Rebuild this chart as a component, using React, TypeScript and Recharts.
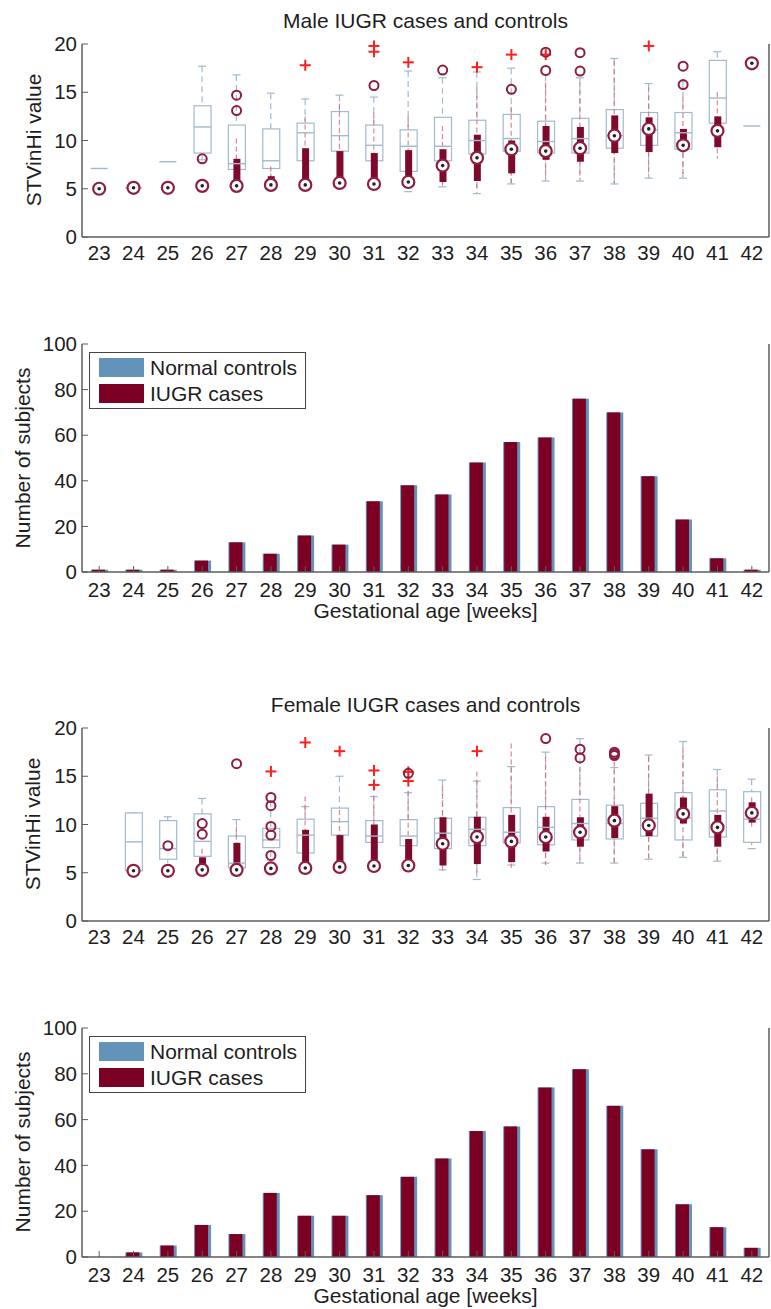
import React from "react";
import { ComposedChart, Bar, Scatter, XAxis, YAxis, Legend } from "recharts";

const FONT = "'Liberation Sans', Arial, Helvetica, sans-serif";
const AXIS = "#5c5c5c";
const TEXT = "#1e1e1e";
const CTRL = "#a3b9cd";
const CASE = "#7d0a2c";
const CASE_RING = "#8e1d40";
const CASE_WHISK = "#d4687c";
const PLUS = "#ff1e1e";
const BAR_CTRL = "#6393b8";
const BAR_CASE = "#7b0024";
const W = 771;

const weeks = ["23", "24", "25", "26", "27", "28", "29", "30", "31", "32", "33", "34", "35", "36", "37", "38", "39", "40", "41", "42"];
const legendOrder = ["Normal controls", "IUGR cases"];

// male STVinHi: normal controls (whisker low, q1, median, q3, whisker high)
const maleCtrlLow = [null, null, null, 8.0, 5.3, 5.5, 5.3, 5.4, 5.3, 4.7, 5.2, 4.5, 5.5, 5.8, 5.8, 5.5, 6.1, 6.1, 10.5, null];
const maleCtrlQ1 = [null, null, null, 8.7, 7.0, 7.1, 7.9, 8.9, 7.9, 6.8, 7.9, 8.6, 8.9, 8.7, 8.7, 9.2, 9.5, 9.1, 11.8, null];
const maleCtrlMed = [7.1, 5.1, 7.8, 11.4, 7.6, 7.9, 10.8, 10.5, 9.5, 9.4, 9.4, 10.0, 10.2, 9.9, 10.2, 10.5, 11.1, 10.8, 14.4, 11.5];
const maleCtrlQ3 = [null, null, null, 13.6, 11.6, 11.2, 11.8, 13.0, 11.6, 11.1, 12.4, 12.1, 12.7, 12.0, 12.3, 13.2, 12.9, 12.9, 18.3, null];
const maleCtrlHigh = [null, null, null, 17.7, 16.8, 14.9, 14.3, 14.7, 14.5, 17.2, 16.5, 17.1, 17.5, 16.8, 16.5, 18.5, 15.9, 16.1, 19.2, null];
const maleCtrlOut = [[], [], [], [], [], [], [17.8], [], [19.8, 19.2], [18.1], [], [17.6], [18.9], [18.9], [], [], [19.8], [], [], []];

// male STVinHi: IUGR cases
const maleCaseLow = [null, null, null, 5.2, 5.2, 5.2, 5.2, 5.3, 5.3, 5.3, 5.3, 4.8, 5.6, 6.0, 6.0, 5.6, 6.5, 6.3, 8.1, null];
const maleCaseQ1 = [null, null, null, 5.2, 5.3, 5.3, 5.4, 5.5, 5.5, 5.6, 5.7, 5.8, 6.6, 8.0, 7.8, 8.7, 8.8, 9.2, 9.3, null];
const maleCaseMed = [5.0, 5.1, 5.1, 5.3, 5.3, 5.4, 5.4, 5.6, 5.5, 5.7, 7.4, 8.2, 9.1, 8.9, 9.2, 10.5, 11.2, 9.5, 11.0, 18.0];
const maleCaseQ3 = [null, null, null, 5.9, 8.1, 6.3, 9.2, 8.9, 8.7, 9.0, 9.1, 10.6, 10.0, 11.5, 11.4, 12.6, 12.4, 11.2, 12.5, null];
const maleCaseHigh = [null, null, null, 6.0, 10.2, 7.3, 12.5, 13.8, 12.9, 12.5, 11.5, 15.5, 13.5, 16.0, 16.0, 18.2, 15.5, 14.5, 15.0, null];
const maleCaseOut = [[], [], [], [8.1], [14.7, 13.1], [], [], [], [15.7], [], [17.3], [], [15.3], [19.15, 17.26], [19.1, 17.2], [], [], [17.7, 15.8], [], []];

// female STVinHi: normal controls
const femCtrlLow = [null, 5.2, 5.3, 5.3, 5.3, 6.3, 5.3, 5.5, 5.5, 5.4, 5.3, 4.3, 5.8, 6.0, 6.0, 6.0, 6.4, 6.6, 6.2, 7.5];
const femCtrlQ1 = [null, 5.2, 6.4, 6.7, 5.5, 7.6, 7.05, 8.9, 8.15, 7.8, 7.5, 7.8, 8.1, 7.9, 8.4, 8.5, 8.8, 8.4, 8.7, 8.15];
const femCtrlMed = [null, 8.2, 7.5, 8.25, 6.0, 8.4, 8.9, 10.3, 8.8, 8.8, 9.1, 9.5, 9.2, 9.7, 10.1, 10.1, 10.65, 10.7, 11.4, 10.55];
const femCtrlQ3 = [null, 11.2, 10.4, 11.1, 8.8, 9.6, 10.55, 11.7, 10.4, 10.5, 10.65, 10.75, 11.75, 11.85, 12.6, 12.0, 12.2, 13.3, 13.6, 13.4];
const femCtrlHigh = [null, 11.2, 10.8, 12.7, 10.5, 12.4, 11.85, 15.0, 12.9, 13.3, 14.6, 14.5, 16.0, 17.5, 18.9, 15.9, 17.2, 18.6, 15.7, 14.7];
const femCtrlOut = [[], [], [], [], [], [15.5], [18.5], [17.6], [15.6, 14.1], [15.45, 14.5], [], [17.6], [], [], [], [], [], [], [], []];

// female STVinHi: IUGR cases
const femCaseLow = [null, null, null, 5.2, 5.2, null, 5.3, 5.4, 5.4, 5.5, 5.2, 5.0, 5.5, 5.8, 6.0, 6.0, 6.2, 6.5, 6.3, 9.8];
const femCaseQ1 = [null, null, null, 5.3, 5.3, null, 5.4, 5.5, 5.6, 5.7, 5.75, 5.9, 6.1, 7.2, 7.7, 8.6, 8.8, 10.1, 7.7, 10.2];
const femCaseMed = [null, 5.2, 5.2, 5.3, 5.3, 5.45, 5.5, 5.6, 5.7, 5.75, 8.0, 8.7, 8.25, 8.7, 9.2, 10.4, 9.9, 11.1, 9.7, 11.2];
const femCaseQ3 = [null, null, null, 6.6, 8.1, null, 9.45, 8.9, 10.0, 8.5, 10.75, 10.8, 11.0, 10.8, 10.75, 11.9, 13.2, 12.8, 11.0, 12.3];
const femCaseHigh = [null, null, null, 7.5, 9.8, null, 12.9, 11.5, 13.0, 13.5, 14.0, 15.5, 18.4, 17.0, 16.0, 16.5, 17.0, 18.0, 15.0, 12.8];
const femCaseOut = [[], [], [7.8], [10.1, 9.0], [16.3], [12.8, 11.95, 9.8, 8.9, 6.8], [], [], [], [15.3], [], [], [], [18.9], [17.8, 16.9], [17.5, 17.3, 17.15], [], [], [], []];

// number of subjects per week
const maleCtrlCount = [1, 1, 1, 5, 13, 8, 16, 12, 31, 38, 34, 48, 57, 59, 76, 70, 42, 23, 6, 1];
const maleCaseCount = [1, 1, 1, 5, 13, 8, 16, 12, 31, 38, 34, 48, 57, 59, 76, 70, 42, 23, 6, 1];
const femCtrlCount = [0, 2, 5, 14, 10, 28, 18, 18, 27, 35, 43, 55, 57, 74, 82, 66, 47, 23, 13, 4];
const femCaseCount = [0, 2, 5, 14, 10, 28, 18, 18, 27, 35, 43, 55, 57, 74, 82, 66, 47, 23, 13, 4];

const stvTicks = [0, 5, 10, 15, 20];
const countTicks = [0, 20, 40, 60, 80, 100];

type Num = number | null;

function boxRows(
  cLow: Num[], cQ1: Num[], cMed: Num[], cQ3: Num[], cHigh: Num[], cOut: number[][],
  kLow: Num[], kQ1: Num[], kMed: Num[], kQ3: Num[], kHigh: Num[], kOut: number[][]
) {
  return weeks.map((week, i) => {
    const row: Record<string, string | number | null> = {
      week,
      cLow: cLow[i], cQ1: cQ1[i], cMed: cMed[i], cQ3: cQ3[i], cHigh: cHigh[i],
      kLow: kLow[i], kQ1: kQ1[i], kMed: kMed[i], kQ3: kQ3[i], kHigh: kHigh[i],
    };
    cOut[i].forEach((v, j) => { row["co" + j] = v; });
    kOut[i].forEach((v, j) => { row["ko" + j] = v; });
    return row;
  });
}

const maleRows = boxRows(maleCtrlLow, maleCtrlQ1, maleCtrlMed, maleCtrlQ3, maleCtrlHigh, maleCtrlOut,
  maleCaseLow, maleCaseQ1, maleCaseMed, maleCaseQ3, maleCaseHigh, maleCaseOut);
const femRows = boxRows(femCtrlLow, femCtrlQ1, femCtrlMed, femCtrlQ3, femCtrlHigh, femCtrlOut,
  femCaseLow, femCaseQ1, femCaseMed, femCaseQ3, femCaseHigh, femCaseOut);

const maleCounts = weeks.map((week, i) => ({ week, ctrl: maleCtrlCount[i], cases: maleCaseCount[i] }));
const femCounts = weeks.map((week, i) => ({ week, ctrl: femCtrlCount[i], cases: femCaseCount[i] }));

const maxLen = (a: number[][]) => Math.max(...a.map((x) => x.length));

const axisLine = { stroke: AXIS, strokeWidth: 1.5 };

// ticks
const xTick = (p: any) => (
  <text x={p.x} y={p.y} dy="0.71em" textAnchor="middle" fontSize={20.5} fontFamily={FONT} fill={TEXT}>
    {p.payload.value}
  </text>
);
const xTickMarked = (p: any) => (
  <g>
    <line x1={p.x} x2={p.x} y1={p.y - 10} y2={p.y - 16} stroke={AXIS} />
    {xTick(p)}
  </g>
);
const leftTick = (p: any) => (
  <g>
    <line x1={p.x + 5} x2={p.x + 11} y1={p.y} y2={p.y} stroke={AXIS} />
    <text x={p.x} y={p.y} dy="0.35em" textAnchor="end" fontSize={20.5} fontFamily={FONT} fill={TEXT}>
      {p.payload.value}
    </text>
  </g>
);
const rightTick = (p: any) => <line x1={p.x - 6} x2={p.x} y1={p.y} y2={p.y} stroke={AXIS} />;
const topTick = (p: any) => <line x1={p.x} x2={p.x} y1={p.y} y2={p.y + 6} stroke={AXIS} />;

// box plot pieces
const span = (p: any) => {
  const a = p.y, b = p.y + p.height;
  return [Math.min(a, b), Math.max(a, b)];
};

const ctrlWhisker = (p: any) => {
  if (!p.payload || p.payload.cLow == null) return <g />;
  const cx = p.x + p.width / 2;
  const [y1, y2] = span(p);
  return (
    <g>
      <line x1={cx} x2={cx} y1={y1} y2={y2} stroke={CTRL} strokeWidth={1.2} strokeDasharray="6 4" />
      <line x1={cx - 4} x2={cx + 4} y1={y1} y2={y1} stroke={CTRL} strokeWidth={1.2} />
      <line x1={cx - 4} x2={cx + 4} y1={y2} y2={y2} stroke={CTRL} strokeWidth={1.2} />
    </g>
  );
};

const ctrlBox = (p: any) => {
  if (!p.payload || p.payload.cQ1 == null) return <g />;
  const [y1, y2] = span(p);
  return <rect x={p.x} y={y1} width={p.width} height={y2 - y1} fill="#fff" stroke={CTRL} strokeWidth={1.2} />;
};

const caseWhisker = (p: any) => {
  if (!p.payload || p.payload.kLow == null) return <g />;
  const cx = p.x + p.width / 2;
  const [y1, y2] = span(p);
  return <line x1={cx} x2={cx} y1={y1} y2={y2} stroke={CASE_WHISK} strokeWidth={1.2} strokeDasharray="5 3" opacity={0.8} />;
};

const caseBox = (p: any) => {
  if (!p.payload || p.payload.kQ1 == null) return <g />;
  const [y1, y2] = span(p);
  return <rect x={p.x} y={y1} width={p.width} height={y2 - y1} fill={CASE} />;
};

const valid = (p: any, key: string) =>
  p.payload && p.payload[key] != null && p.cy != null && Number.isFinite(p.cy);

const ctrlMedian = (p: any) =>
  valid(p, "cMed") ? (
    <line x1={p.cx - 8.5} x2={p.cx + 8.5} y1={p.cy} y2={p.cy} stroke={CTRL} strokeWidth={1.4} />
  ) : <g />;

const caseMedian = (p: any) =>
  valid(p, "kMed") ? (
    <g>
      <circle cx={p.cx} cy={p.cy} r={6} fill="#fff" stroke={CASE_RING} strokeWidth={2.2} />
      <circle cx={p.cx} cy={p.cy} r={1.8} fill="#222" />
    </g>
  ) : <g />;

const plusShape = (key: string) => (p: any) =>
  valid(p, key) ? (
    <g stroke={PLUS} strokeWidth={2}>
      <line x1={p.cx - 5.5} x2={p.cx + 5.5} y1={p.cy} y2={p.cy} />
      <line x1={p.cx} x2={p.cx} y1={p.cy - 5.5} y2={p.cy + 5.5} />
    </g>
  ) : <g />;

const ringShape = (key: string) => (p: any) =>
  valid(p, key) ? <circle cx={p.cx} cy={p.cy} r={4.5} fill="none" stroke={CASE_RING} strokeWidth={2} /> : <g />;

function BoxPanel({ rows, nCo, nKo, top, height, marginTop, axisH }: any) {
  return (
    <div style={{ position: "absolute", left: 0, top }}>
      <ComposedChart width={W} height={height} data={rows} margin={{ top: marginTop, right: 0, bottom: 0, left: 0 }}>
        <XAxis xAxisId="x" dataKey="week" height={axisH} interval={0} tickSize={0} tickMargin={8}
          tickLine={false} axisLine={axisLine} tick={xTick} />
        <XAxis xAxisId="top" dataKey="week" orientation="top" height={0} tickLine={false} tick={false} axisLine={axisLine} />
        <XAxis xAxisId="x2" dataKey="week" hide />
        <XAxis xAxisId="x3" dataKey="week" hide />
        <XAxis xAxisId="x4" dataKey="week" hide />
        <YAxis yAxisId="l" type="number" domain={[0, 20]} ticks={stvTicks} interval={0} width={82}
          tickSize={0} tickMargin={5} tickLine={false} axisLine={axisLine} tick={leftTick} />
        <YAxis yAxisId="r" orientation="right" type="number" domain={[0, 20]} ticks={stvTicks} interval={0} width={2}
          tickSize={0} tickMargin={0} tickLine={false} axisLine={axisLine} tick={rightTick} />

        <Bar xAxisId="x" yAxisId="l" dataKey={(d: any) => (d.cLow == null ? null : [d.cLow, d.cHigh])}
          barSize={10} shape={ctrlWhisker} isAnimationActive={false} />
        <Bar xAxisId="x2" yAxisId="l" dataKey={(d: any) => (d.cQ1 == null ? null : [d.cQ1, d.cQ3])}
          barSize={17} shape={ctrlBox} isAnimationActive={false} />
        <Scatter xAxisId="x" yAxisId="l" dataKey="cMed" shape={ctrlMedian} isAnimationActive={false} />
        <Bar xAxisId="x3" yAxisId="l" dataKey={(d: any) => (d.kLow == null ? null : [d.kLow, d.kHigh])}
          barSize={4} shape={caseWhisker} isAnimationActive={false} />
        <Bar xAxisId="x4" yAxisId="l" dataKey={(d: any) => (d.kQ1 == null ? null : [d.kQ1, d.kQ3])}
          barSize={7} shape={caseBox} isAnimationActive={false} />
        {Array.from({ length: nCo }, (_, j) => (
          <Scatter key={"co" + j} xAxisId="x" yAxisId="l" dataKey={"co" + j} shape={plusShape("co" + j)} isAnimationActive={false} />
        ))}
        {Array.from({ length: nKo }, (_, j) => (
          <Scatter key={"ko" + j} xAxisId="x" yAxisId="l" dataKey={"ko" + j} shape={ringShape("ko" + j)} isAnimationActive={false} />
        ))}
        <Scatter xAxisId="x" yAxisId="l" dataKey="kMed" shape={caseMedian} isAnimationActive={false} />
      </ComposedChart>
    </div>
  );
}

const renderLegend = (props: any) => {
  const items = [...(props.payload || [])].sort(
    (a: any, b: any) => legendOrder.indexOf(a.value) - legendOrder.indexOf(b.value)
  );
  return (
    <div style={{ width: 217, height: 57, border: "1px solid #444", background: "#fff", boxSizing: "border-box", position: "relative" }}>
      {items.map((e: any, i: number) => (
        <div key={i} style={{ position: "absolute", left: 9, top: i === 0 ? 5 : 31, display: "flex", alignItems: "center", height: 19 }}>
          <span style={{ width: 45, height: 19, background: e.color, display: "inline-block" }} />
          <span style={{ marginLeft: 6, fontSize: 21, fontFamily: FONT, color: TEXT, lineHeight: "19px" }}>{e.value}</span>
        </div>
      ))}
    </div>
  );
};

const shiftedBar = (p: any) => <rect x={p.x - 1} y={p.y} width={p.width} height={Math.max(0, p.height)} fill={BAR_CASE} />;

function CountPanel({ rows, top, height, marginTop, axisH }: any) {
  return (
    <div style={{ position: "absolute", left: 0, top }}>
      <ComposedChart width={W} height={height} data={rows} margin={{ top: marginTop, right: 0, bottom: 0, left: 0 }}>
        <XAxis xAxisId="x" dataKey="week" height={axisH} interval={0} tickSize={0} tickMargin={10}
          tickLine={false} axisLine={axisLine} tick={xTickMarked} />
        <XAxis xAxisId="top" dataKey="week" orientation="top" height={0} interval={0} tickSize={0} tickMargin={0}
          tickLine={false} axisLine={axisLine} tick={topTick} />
        <XAxis xAxisId="x2" dataKey="week" hide />
        <YAxis yAxisId="l" type="number" domain={[0, 100]} ticks={countTicks} interval={0} width={82}
          tickSize={0} tickMargin={5} tickLine={false} axisLine={axisLine} tick={leftTick} />
        <YAxis yAxisId="r" orientation="right" type="number" domain={[0, 100]} ticks={countTicks} interval={0} width={2}
          tickSize={0} tickMargin={0} tickLine={false} axisLine={axisLine} tick={rightTick} />
        <Legend layout="vertical" align="center" verticalAlign="middle" content={renderLegend}
          wrapperStyle={{ left: 89, top: marginTop + 8, width: 217 }} />
        <Bar xAxisId="x" yAxisId="l" dataKey="ctrl" name="Normal controls" fill={BAR_CTRL} barSize={17} isAnimationActive={false} />
        <Bar xAxisId="x2" yAxisId="l" dataKey="cases" name="IUGR cases" fill={BAR_CASE} barSize={13} shape={shiftedBar} isAnimationActive={false} />
      </ComposedChart>
    </div>
  );
}

const txt = { fontFamily: FONT, fontSize: 21, fill: TEXT, textAnchor: "middle" as const };

export default function App() {
  return (
    <div style={{ position: "absolute", left: 0, top: 0, width: W, height: 1309, background: "#fff" }}>
      <BoxPanel rows={maleRows} nCo={maxLen(maleCtrlOut)} nKo={maxLen(maleCaseOut)} top={0} height={275} marginTop={44} axisH={38} />
      <CountPanel rows={maleCounts} top={300} height={300} marginTop={44} axisH={28} />
      <BoxPanel rows={femRows} nCo={maxLen(femCtrlOut)} nKo={maxLen(femCaseOut)} top={680} height={280} marginTop={48} axisH={39} />
      <CountPanel rows={femCounts} top={990} height={300} marginTop={38} axisH={33} />
      <svg width={W} height={1309} style={{ position: "absolute", left: 0, top: 0, pointerEvents: "none" }}>
        <text x={425.5} y={20.5} dy="0.35em" {...txt}>Male IUGR cases and controls</text>
        <text x={34} y={140} dy="0.35em" transform="rotate(-90 34 140)" {...txt}>STVinHi value</text>
        <text x={23} y={458} dy="0.35em" transform="rotate(-90 23 458)" {...txt}>Number of subjects</text>
        <text x={425.5} y={611} dy="0.35em" {...txt}>Gestational age [weeks]</text>
        <text x={425.5} y={705} dy="0.35em" {...txt}>Female IUGR cases and controls</text>
        <text x={33} y={824} dy="0.35em" transform="rotate(-90 33 824)" {...txt}>STVinHi value</text>
        <text x={23} y={1142} dy="0.35em" transform="rotate(-90 23 1142)" {...txt}>Number of subjects</text>
        <text x={425.5} y={1296} dy="0.35em" {...txt}>Gestational age [weeks]</text>
      </svg>
    </div>
  );
}
